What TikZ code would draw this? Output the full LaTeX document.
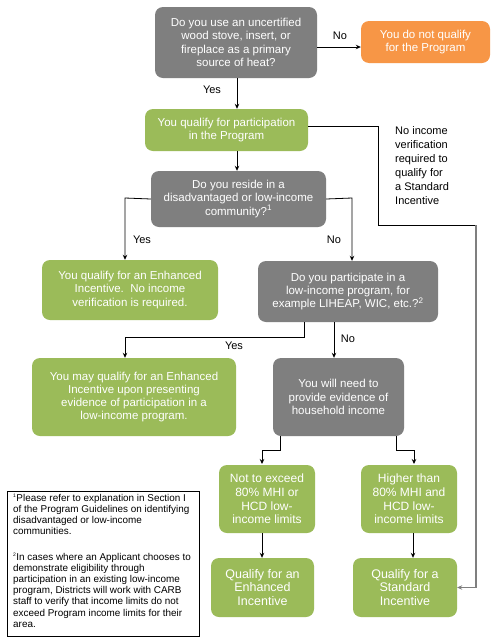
\documentclass[tikz,border=0pt]{standalone}
\usepackage{fontspec}
\setmainfont{Liberation Sans}
\usetikzlibrary{arrows.meta,calc}
\definecolor{qgray}{HTML}{7F7F7F}
\definecolor{qgreen}{HTML}{9BBB59}
\definecolor{qorange}{HTML}{F79646}
\begin{document}
\begin{tikzpicture}[x=1pt,y=-1pt,
  box/.style={rounded corners=8pt,text=white,align=center,inner sep=1pt,
     font=\fontsize{11.5}{13.3}\selectfont},
  qbox/.style={box,fill=qgray},
  gbox/.style={box,fill=qgreen},
  obox/.style={box,fill=qorange},
  arr/.style={draw=black,line width=0.8pt,-{Stealth[length=5pt,width=4.5pt]}},
  ln/.style={draw=black,line width=0.8pt},
  lbl/.style={font=\fontsize{11}{13}\selectfont,inner sep=0pt}]
\useasboundingbox (0,0) rectangle (499,643);
\fill[white] (0,0) rectangle (499,643);
\node[qbox,minimum width=162pt,minimum height=71pt] (b1) at (236,42.5)
  {Do you use an uncertified\\wood stove, insert, or\\fireplace as a primary\\source of heat?};
\node[obox,minimum width=129pt,minimum height=42pt] (b0) at (425.5,42)
  {You do not qualify\\for the Program};
\node[gbox,minimum width=163pt,minimum height=42pt] (b2) at (226.5,130)
  {You qualify for participation\\in the Program};
\node[qbox,minimum width=175pt,minimum height=56pt] (b3) at (238.5,199)
  {Do you reside in a\\disadvantaged or low-income\\community?\textsuperscript{1}};
\node[gbox,minimum width=176pt,minimum height=60pt] (b4) at (130,290)
  {You qualify for an Enhanced\\Incentive.\ \ No income\\verification is required.};
\node[qbox,minimum width=180pt,minimum height=61pt] (b5) at (348,291.5)
  {Do you participate in a\\low-income program, for\\example LIHEAP, WIC, etc.?\textsuperscript{2}};
\node[gbox,minimum width=204pt,minimum height=78pt] (b6) at (134,397)
  {You may qualify for an Enhanced\\Incentive upon presenting\\evidence of participation in a\\low-income program.};
\node[qbox,minimum width=131pt,minimum height=78pt] (b7) at (338.5,397)
  {You will need to\\provide evidence of\\household income};
\node[gbox,minimum width=96pt,minimum height=68pt,font=\fontsize{12}{13.8}\selectfont] (b8) at (267,499)
  {Not to exceed\\80\% MHI or\\HCD low-\\income limits};
\node[gbox,minimum width=96pt,minimum height=68pt,font=\fontsize{12}{13.8}\selectfont] (b9) at (409,499)
  {Higher than\\80\% MHI and\\HCD low-\\income limits};
\node[gbox,minimum width=103pt,minimum height=59pt,font=\fontsize{12.5}{13.5}\selectfont] (b10) at (262.5,587.5)
  {Qualify for an\\Enhanced\\Incentive};
\node[gbox,minimum width=104pt,minimum height=59pt,font=\fontsize{12.5}{13.5}\selectfont] (b11) at (405,587.5)
  {Qualify for a\\Standard\\Incentive};
\node[lbl,anchor=north west,align=left,font=\fontsize{11}{14}\selectfont] (note) at (395,126)
  {No income\\verification\\required to\\qualify for\\a Standard\\Incentive};
\node[draw=black,line width=0.8pt,minimum width=192pt,minimum height=145pt,inner sep=0pt] (fn) at (103,563.5) {};
\node[anchor=north west,align=left,inner sep=0pt,font=\fontsize{9.9}{11.2}\selectfont] (fntext) at (13,494)
  {\textsuperscript{\tiny 1}Please refer to explanation in Section I\\
   of the Program Guidelines on identifying\\
   disadvantaged or low-income\\
   communities.\\[14pt]
   \textsuperscript{\tiny 2}In cases where an Applicant chooses to\\
   demonstrate eligibility through\\
   participation in an existing low-income\\
   program, Districts will work with CARB\\
   staff to verify that income limits do not\\
   exceed Program income limits for their\\
   area.};
% connectors
\coordinate (c1) at (237,78);
\draw[arr] ([yshift=-4.5pt]b1.east) -- ([yshift=-4.5pt]b1.east -| b0.west);
\node[lbl] (no1) at (340,36) {No};
\draw[arr] (c1) -- (c1 |- b2.north);
\node[lbl] (yes1) at (212,90) {Yes};
\draw[arr] (c1 |- b2.south) -- (c1 |- b3.north);
\coordinate (r1) at (378,126);
\coordinate (r2) at (378,225);
\coordinate (r3) at (476,225);
\draw[ln] ([yshift=4pt]b2.east) -- (r1) -- (r2) -- (r3);
\draw[draw=qgray,line width=1.2pt,-{Stealth[length=5pt,width=4.5pt]},draw=qgray] (r3) -- (r3 |- b11.east) -- (b11.east);
\coordinate (l1) at (125,198);
\draw[arr] (b3.west) -- (l1) -- (l1 |- b4.north);
\node[lbl] (yes2) at (142,240) {Yes};
\coordinate (l2) at (352,198);
\draw[arr] (b3.east) -- (l2) -- (l2 |- b5.north);
\node[lbl] (no2) at (334,240) {No};
\coordinate (d1) at (304,322);
\coordinate (d2) at (304,337);
\coordinate (d3) at (125,337);
\draw[arr] (d1) -- (d2) -- (d3) -- (d3 |- b6.north);
\node[lbl] (yes3) at (234,346) {Yes};
\coordinate (d4) at (334,322);
\draw[arr] (d4) -- (d4 |- b7.north);
\node[lbl] (no3) at (348,339) {No};
\coordinate (e1) at (280,436);
\coordinate (e2) at (280,450);
\coordinate (e3) at (262,450);
\draw[arr] (e1) -- (e2) -- (e3) -- (262,464);
\coordinate (f1) at (396,436);
\coordinate (f2) at (396,450);
\coordinate (f3) at (414,450);
\draw[arr] (f1) -- (f2) -- (f3) -- (414,464);
\coordinate (g1) at (262,533);
\draw[arr] (g1) -- (g1 |- b10.north);
\coordinate (g2) at (413,533);
\draw[arr] (g2) -- (g2 |- b11.north);
\end{tikzpicture}
\end{document}
